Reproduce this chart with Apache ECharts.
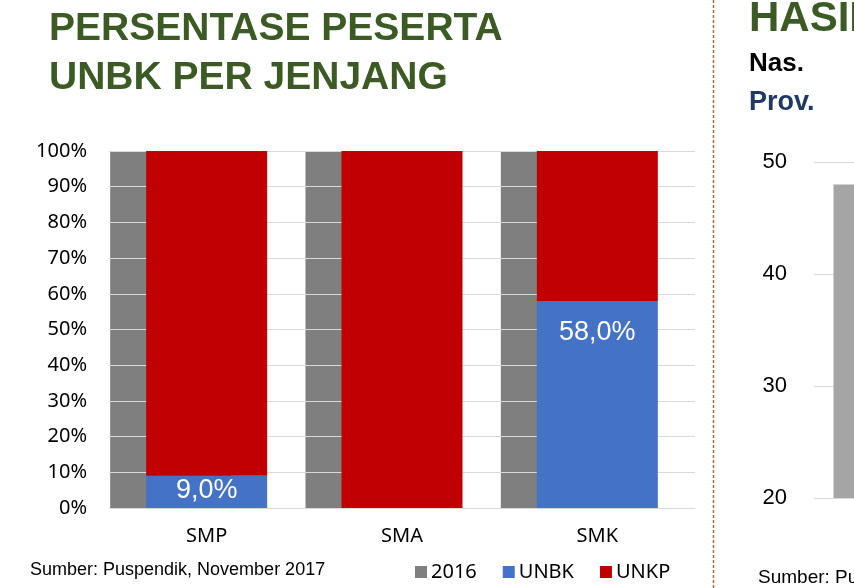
<!DOCTYPE html>
<html>
<head>
<meta charset="utf-8">
<script src="https://cdn.jsdelivr.net/npm/echarts@6/dist/echarts.min.js"></script>
<style>
  html, body { margin: 0; padding: 0; background: #fff; }
  #main { width: 854px; height: 588px; }
</style>
</head>
<body>
<div id="main"></div>
<script>
// data jenjang (kiri)
var jenjang = ['SMP', 'SMA', 'SMK'];
var data2016 = [100, 100, 100];
var dataUNBK = [9, 0, 58];
var dataUNKP = [91, 100, 42];

// panel kanan (terpotong)
var hasilKategori = ['Nas.'];
var hasilNilai = [48];

var myChart = echarts.init(document.getElementById('main'));

function persen(v) {
    return v.toFixed(1).replace('.', ',') + '%';
}

var option = {
    animation: false,
    title: {
        text: 'PERSENTASE PESERTA\nUNBK PER JENJANG',
        left: 44,
        top: 0,
        textStyle: {
            fontFamily: 'Liberation Sans',
            fontWeight: 'bold',
            fontSize: 39,
            lineHeight: 49,
            color: '#3c5a23'
        }
    },
    legend: {
        data: ['2016', 'UNBK', 'UNKP'],
        left: 410,
        top: 557,
        itemWidth: 12,
        itemHeight: 12,
        itemGap: 26,
        icon: 'rect',
        textStyle: { fontFamily: 'Noto Sans', fontSize: 20, color: '#000', padding: [0, 0, 0, -1] }
    },
    grid: [
        { left: 109, right: 159, top: 151, bottom: 80 },
        { left: 814, right: 0, top: 162, height: 336 }
    ],
    xAxis: [
        {
            type: 'category', gridIndex: 0, data: jenjang,
            axisLine: { lineStyle: { color: '#d9d9d9' } },
            axisTick: { show: false },
            axisLabel: { fontFamily: 'Noto Sans', fontSize: 20, color: '#000', margin: 18 }
        },
        {
            type: 'category', gridIndex: 0, data: jenjang, show: false
        },
        {
            type: 'category', gridIndex: 1, data: hasilKategori, show: false
        }
    ],
    yAxis: [
        {
            type: 'value', gridIndex: 0, min: 0, max: 100, interval: 10,
            axisLine: { show: false }, axisTick: { show: false },
            axisLabel: { formatter: '{value}%', fontFamily: 'Noto Sans', fontSize: 20, color: '#000', margin: 22 },
            splitLine: { lineStyle: { color: '#d9d9d9', width: 1 } }
        },
        {
            type: 'value', gridIndex: 1, min: 20, max: 50, interval: 10,
            axisLine: { show: false }, axisTick: { show: false },
            axisLabel: { fontFamily: 'Liberation Sans', fontSize: 22, color: '#000', margin: 27 },
            splitLine: { lineStyle: { color: '#d9d9d9', width: 1 } }
        }
    ],
    series: [
        {
            name: '2016', type: 'bar', xAxisIndex: 1, yAxisIndex: 0,
            barWidth: 121, barGap: '-40.5%', z: -1,
            itemStyle: { color: '#7f7f7f' },
            data: data2016
        },
        {
            // penempatan saja, tidak terlihat
            name: 'geser', type: 'bar', xAxisIndex: 1, yAxisIndex: 0,
            barWidth: 121, barGap: '-40.5%',
            itemStyle: { color: 'transparent' },
            data: jenjang.map(function () { return '-'; })
        },
        {
            name: 'UNBK', type: 'bar', stack: 'jenjang', xAxisIndex: 0, yAxisIndex: 0,
            barWidth: 121,
            itemStyle: { color: '#4472c4' },
            label: {
                show: true, position: 'insideTop', color: '#fff',
                fontFamily: 'Liberation Sans', fontSize: 27,
                formatter: function (p) { return p.value > 0 ? persen(p.value) : ''; }
            },
            data: dataUNBK.map(function (v) {
                return v > 20 ? { value: v, label: { distance: 18 } } : { value: v, label: { distance: 1 } };
            })
        },
        {
            name: 'UNKP', type: 'bar', stack: 'jenjang', xAxisIndex: 0, yAxisIndex: 0,
            barWidth: 121,
            itemStyle: { color: '#c00000' },
            data: dataUNKP
        },
        {
            // penempatan saja, tidak terlihat
            name: 'geser2', type: 'bar', xAxisIndex: 2, yAxisIndex: 1,
            barWidth: 40, barGap: '-2.5%',
            itemStyle: { color: 'transparent' },
            data: hasilKategori.map(function () { return '-'; })
        },
        {
            name: 'Hasil', type: 'bar', xAxisIndex: 2, yAxisIndex: 1,
            barWidth: 40, barGap: '-2.5%',
            itemStyle: { color: '#a5a5a5' },
            data: hasilNilai
        }
    ],
    graphic: [
        {
            type: 'line', shape: { x1: 713.5, y1: 0, x2: 713.5, y2: 588 },
            style: { stroke: '#b0683a', lineWidth: 1.5, lineDash: [3, 2] }
        },
        {
            type: 'text', left: 30, top: 561,
            style: { text: 'Sumber: Puspendik, November 2017', font: '18px "Liberation Sans"', fill: '#000' }
        },
        {
            type: 'text', left: 749, top: -2,
            style: { text: 'HASIL UNBK', font: 'bold 42px "Liberation Sans"', fill: '#3c5a23' }
        },
        {
            type: 'text', left: 749, top: 51,
            style: { text: 'Nas.', font: 'bold 26px "Liberation Sans"', fill: '#000' }
        },
        {
            type: 'text', left: 749, top: 89,
            style: { text: 'Prov.', font: 'bold 27px "Liberation Sans"', fill: '#1f3864' }
        },
        {
            type: 'text', left: 758, top: 568,
            style: { text: 'Sumber: Puspendik', font: '19px "Liberation Sans"', fill: '#000' }
        }
    ]
};

myChart.setOption(option);
</script>
</body>
</html>
